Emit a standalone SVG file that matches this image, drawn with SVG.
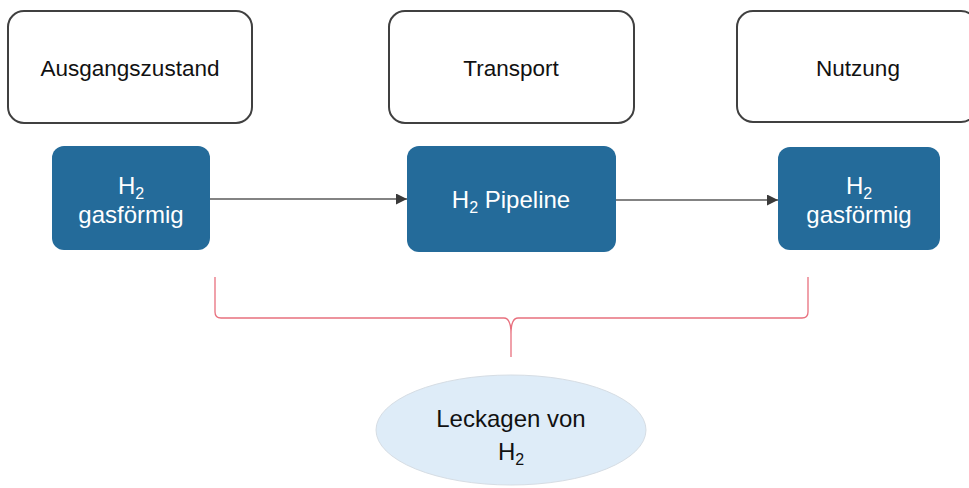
<svg xmlns="http://www.w3.org/2000/svg" width="969" height="488" viewBox="0 0 969 488">
<defs>
<style>
.stage{fill:#ffffff;stroke:#404040;stroke-width:2}
.blue{fill:#246b9a}
.t{font-family:"Liberation Sans",Arial,sans-serif;font-size:22.5px;fill:#111;text-anchor:middle}
.e{font-family:"Liberation Sans",Arial,sans-serif;font-size:24px;fill:#111;text-anchor:middle}
.w{font-family:"Liberation Sans",Arial,sans-serif;font-size:24px;fill:#ffffff;text-anchor:middle}
.sub{font-size:16px}
.conn{stroke:#5a5a5a;stroke-width:1.3;fill:none}
.brace{stroke:#e8707e;stroke-width:1.3;fill:none}
</style>
<marker id="arr" viewBox="0 0 10 10" refX="10" refY="5" markerWidth="11" markerHeight="11" markerUnits="userSpaceOnUse" orient="auto">
<path d="M0,0 L10,5 L0,10 z" fill="#3a3a3a"/>
</marker>
</defs>
<g id="stage1"><rect class="stage" x="8" y="11" width="244" height="112" rx="16"/><text class="t" x="130" y="76">Ausgangszustand</text></g>
<g id="stage2"><rect class="stage" x="389" y="11" width="245" height="112" rx="16"/><text class="t" x="511" y="76">Transport</text></g>
<g id="stage3"><rect class="stage" x="737" y="11" width="240" height="111" rx="16"/><text class="t" x="858" y="76">Nutzung</text></g>
<g id="h2a"><rect class="blue" x="52" y="146" width="158" height="104" rx="12"/><text class="w" x="131" y="194">H<tspan class="sub" dy="5">2</tspan></text><text class="w" x="131" y="223">gasförmig</text></g>
<g id="pipeline"><rect class="blue" x="407" y="146" width="209" height="106" rx="12"/><text class="w" x="511" y="208">H<tspan class="sub" dy="5">2</tspan><tspan dy="-5"> Pipeline</tspan></text></g>
<g id="h2b"><rect class="blue" x="778" y="147" width="162" height="103" rx="12"/><text class="w" x="859" y="194">H<tspan class="sub" dy="5">2</tspan></text><text class="w" x="859" y="223">gasförmig</text></g>
<g id="connectors">
<line class="conn" x1="210" y1="199" x2="407" y2="199" marker-end="url(#arr)"/>
<line class="conn" x1="616" y1="200" x2="778" y2="200" marker-end="url(#arr)"/>
<path class="brace" d="M215,277 L215,312 Q215,318 221,318 L504,318 Q511,318 511,334 L511,357 M511,334 Q511,318 518,318 L802,318 Q808,318 808,312 L808,277"/>
</g>
<g id="leak"><ellipse cx="511" cy="430" rx="135" ry="55" fill="#deecf8" stroke="#d6dde4" stroke-width="1"/><text class="e" x="511" y="427">Leckagen von</text><text class="e" x="511" y="460">H<tspan class="sub" dy="5">2</tspan></text></g>
</svg>
